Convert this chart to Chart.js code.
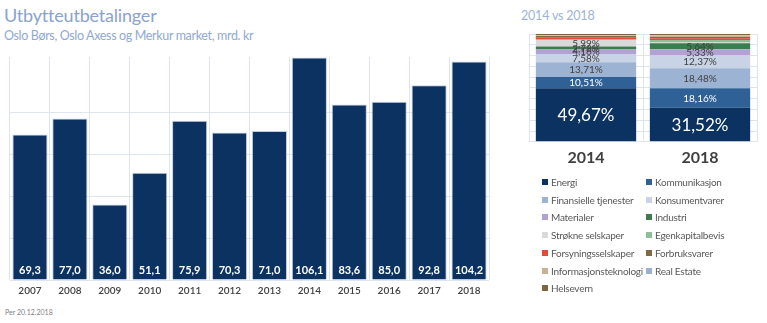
<!DOCTYPE html>
<html>
<head>
<meta charset="utf-8">
<script src="https://cdn.jsdelivr.net/npm/chart.js@4/dist/chart.umd.min.js"></script>
<style>
  html, body { margin: 0; padding: 0; background: #ffffff; }
  body { width: 767px; height: 323px; position: relative; overflow: hidden; font-family: 'Lato', 'Liberation Sans', sans-serif; }
  .abs { position: absolute; }
  #title { left: 4px; top: 4px; font-size: 18px; letter-spacing: -0.2px; color: #8aa3cc; white-space: nowrap; }
  #subtitle { left: 4px; top: 28px; font-size: 12.5px; letter-spacing: -0.35px; color: #8fa9d3; white-space: nowrap; }
  #rtitle { left: 521px; top: 8px; font-size: 12.5px; letter-spacing: -0.2px; color: #9db3d6; white-space: nowrap; }
  #foot { left: 5px; top: 308px; font-size: 7px; color: #7f7f7f; white-space: nowrap; }
  #leftWrap { left: 0px; top: 50px; width: 495px; height: 254px; }
  #rightWrap { left: 520px; top: 25px; width: 247px; height: 154px; }
  #legend { left: 542px; top: 175px; width: 226px; }
  .item { position: absolute; font-size: 10px; letter-spacing: -0.25px; color: #595959; white-space: nowrap; line-height: 14px; }
  .box { display: inline-block; width: 6px; height: 6px; margin-right: 3px; vertical-align: 1px; }
</style>
</head>
<body>
<div id="title" class="abs">Utbytteutbetalinger</div>
<div id="subtitle" class="abs">Oslo Børs, Oslo Axess og Merkur market, mrd. kr</div>
<div id="rtitle" class="abs">2014 vs 2018</div>
<div id="foot" class="abs">Per 20.12.2018</div>
<div id="leftWrap" class="abs"><canvas id="left"></canvas></div>
<div id="rightWrap" class="abs"><canvas id="right"></canvas></div>
<div id="legend" class="abs"></div>
<script>
// ---- Data ----
const years = ['2007','2008','2009','2010','2011','2012','2013','2014','2015','2016','2017','2018'];
const payouts = [69.3, 77.0, 36.0, 51.1, 75.9, 70.3, 71.0, 106.1, 83.6, 85.0, 92.8, 104.2];

const compareYears = ['2014', '2018'];
const sectors = ['Energi','Kommunikasjon','Finansielle tjenester','Konsumentvarer','Materialer','Industri',
  'Strøkne selskaper','Egenkapitalbevis','Forsyningsselskaper','Forbruksvarer','Informasjonsteknologi','Real Estate','Helsevern'];
const share2014 = [49.67, 10.51, 13.71, 7.58, 4.16, 2.78, 5.99, 0.55, 2.05, 1.10, 0.60, 0.30, 1.00];
const share2018 = [31.52, 18.16, 18.48, 12.37, 5.33, 5.64, 0.50, 2.40, 1.60, 1.20, 1.30, 0.50, 1.00];

// ---- Styles ----
const sectorColors = ['#0b3261','#2f6096','#9db3d3','#c8d3e5','#b2a1d3','#3e7b4f',
  '#d9d9d9','#8fbf97','#e8473b','#7e6a45','#c5b394','#9cb1d1','#7f6441'];
const fontFam = "'Lato', 'Liberation Sans', sans-serif";
const gridColor = '#dfe5ef';

function fmt(v, d) { return v.toFixed(d).replace('.', ','); }

// Plugin: values at the bottom of the bars
const bottomLabels = {
  id: 'bottomLabels',
  afterDatasetsDraw(chart) {
    const ctx = chart.ctx;
    const meta = chart.getDatasetMeta(0);
    ctx.save();
    ctx.font = "bold 11px " + fontFam;
    ctx.fillStyle = '#ffffff';
    ctx.textAlign = 'center';
    ctx.textBaseline = 'middle';
    meta.data.forEach((el, i) => {
      const p = el.getProps(['x', 'base'], true);
      ctx.fillText(fmt(chart.data.datasets[0].data[i], 1), p.x, p.base - 9);
    });
    ctx.restore();
  }
};

// Plugin: percentage labels in stacked segments
const segLabels = {
  id: 'segLabels',
  afterDatasetsDraw(chart) {
    const ctx = chart.ctx;
    ctx.save();
    ctx.textAlign = 'center';
    ctx.textBaseline = 'middle';
    chart.data.datasets.forEach((ds, di) => {
      const meta = chart.getDatasetMeta(di);
      meta.data.forEach((el, i) => {
        const v = ds.data[i];
        if (v < 2.5) return;
        const p = el.getProps(['x', 'y', 'base'], true);
        const big = di === 0;
        ctx.font = (big ? '17px ' : '10px ') + fontFam;
        ctx.fillStyle = di <= 1 ? '#ffffff' : '#404040';
        ctx.fillText(fmt(v, 2) + '%', p.x, (p.y + p.base) / 2 + 0.5);
      });
    });
    ctx.restore();
  }
};

new Chart(document.getElementById('left'), {
  type: 'bar',
  data: {
    labels: years,
    datasets: [{
      data: payouts,
      backgroundColor: '#0b3261',
      borderColor: '#c3cee0',
      borderWidth: 1,
      barPercentage: 0.88,
      categoryPercentage: 1.0
    }]
  },
  options: {
    responsive: true,
    maintainAspectRatio: false,
    animation: false,
    layout: { padding: { left: 10, right: 6, top: 7, bottom: 2 } },
    plugins: { legend: { display: false }, tooltip: { enabled: false } },
    scales: {
      x: {
        grid: { display: true, color: gridColor, drawTicks: false, offset: true },
        border: { display: false },
        ticks: { color: '#404040', font: { family: fontFam, size: 10, weight: '600' }, padding: 5 }
      },
      y: {
        min: 0, max: 106.3,
        grid: {
          drawTicks: false,
          color: (c) => (c.tick && Math.abs(c.tick.value % 20) < 0.001) ? gridColor : 'rgba(0,0,0,0)'
        },
        border: { display: false },
        ticks: { display: false, stepSize: 20 }
      }
    }
  },
  plugins: [bottomLabels]
});

new Chart(document.getElementById('right'), {
  type: 'bar',
  data: {
    labels: compareYears,
    datasets: sectors.map((s, i) => ({
      label: s,
      data: [share2014[i], share2018[i]],
      backgroundColor: sectorColors[i],
      borderWidth: 0,
      barPercentage: 0.88,
      categoryPercentage: 1.0
    }))
  },
  options: {
    responsive: true,
    maintainAspectRatio: false,
    animation: false,
    layout: { padding: { left: 9, right: 10, top: 9, bottom: 6 } },
    plugins: { legend: { display: false }, tooltip: { enabled: false } },
    scales: {
      x: {
        stacked: true,
        grid: { display: true, color: gridColor, drawTicks: false, offset: true },
        border: { display: false },
        ticks: { color: '#404040', font: { family: fontFam, size: 16, weight: 'bold' }, padding: 6 }
      },
      y: {
        stacked: true,
        min: 0, max: 100,
        grid: { color: gridColor, drawTicks: false },
        border: { display: false },
        ticks: { display: false, stepSize: 10 }
      }
    }
  },
  plugins: [segLabels]
});

// HTML legend built from sectors
const legend = document.getElementById('legend');
sectors.forEach((s, i) => {
  const d = document.createElement('div');
  d.className = 'item';
  d.style.left = (i % 2 === 0 ? 0 : 104) + 'px';
  d.style.top = (Math.floor(i / 2) * 17.7) + 'px';
  d.innerHTML = '<span class="box" style="background:' + sectorColors[i] + '"></span>' + s;
  legend.appendChild(d);
});
</script>
</body>
</html>
